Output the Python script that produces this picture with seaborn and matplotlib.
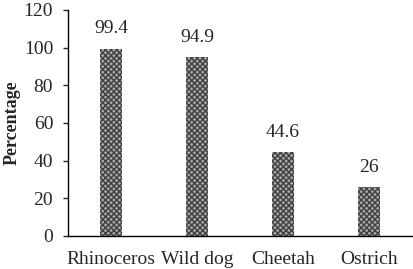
import matplotlib
matplotlib.use("Agg")
import matplotlib.pyplot as plt
import seaborn as sns
import pandas as pd

# dados do gráfico
animais = ["Rhinoceros", "Wild dog", "Cheetah", "Ostrich"]
percentagem = [99.4, 94.9, 44.6, 26]
rotulos = ["99.4", "94.9", "44.6", "26"]

df = pd.DataFrame({"Animal": animais, "Percentage": percentagem})

sns.set_style("ticks")
plt.rcParams["font.family"] = ["Liberation Serif", "DejaVu Serif"]
plt.rcParams["hatch.linewidth"] = 1.0

fig = plt.figure(figsize=(4.14, 2.69), dpi=100)
ax = fig.add_axes([0.164, 0.123, 0.831, 0.840])

sns.barplot(data=df, x="Animal", y="Percentage", ax=ax, width=0.256,
            color="#a8a8a8", saturation=1)
for barra in ax.patches:
    barra.set_hatch("xxxxxx")
    barra.set_edgecolor("#404040")
    barra.set_linewidth(0)

for barra, txt in zip(ax.patches, rotulos):
    ax.text(barra.get_x() + barra.get_width() / 2, barra.get_height() + 6, txt,
            ha="center", va="bottom", fontsize=14)

ax.set_ylim(0, 120)
ax.set_yticks(range(0, 121, 20))
ax.set_xlim(-0.5, 3.5)
ax.set_xlabel("")
ax.set_ylabel("Percentage", fontsize=13, fontweight="bold", va="center")
ax.yaxis.set_label_coords(-0.163, 0.5)
ax.tick_params(axis="x", length=0, labelsize=14, pad=11)
ax.tick_params(axis="y", length=3.6, width=1, labelsize=14, direction="out", pad=7)
sns.despine(ax=ax)
for lado in ["left", "bottom"]:
    ax.spines[lado].set_linewidth(1)
    ax.spines[lado].set_color("black")

fig.savefig("out.png", dpi=100)
